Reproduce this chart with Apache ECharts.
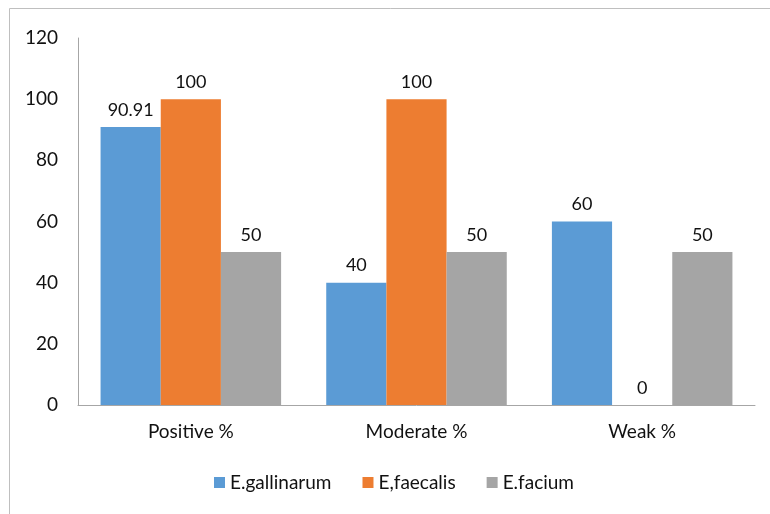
<!DOCTYPE html>
<html>
<head>
<meta charset="utf-8">
<script src="https://cdn.jsdelivr.net/npm/echarts@6/dist/echarts.min.js"></script>
<style>
  html, body { margin: 0; padding: 0; background: #fff; }
  #chart { width: 770px; height: 514px; }
</style>
</head>
<body>
<div id="chart"></div>
<script>
// Categories and series values
const categories = ['Positive %', 'Moderate %', 'Weak %'];
const gallinarum = [90.91, 40, 60];
const faecalis = [100, 100, 0];
const facium = [50, 50, 50];
const seriesNames = ['E.gallinarum', 'E,faecalis', 'E.facium'];
const yTicks = [0, 20, 40, 60, 80, 100, 120];

const colors = ['#5B9BD5', '#ED7D31', '#A5A5A5'];
const font = 'Lato, "Open Sans", sans-serif';
const textColor = '#111111';

const chart = echarts.init(document.getElementById('chart'), null, { renderer: 'canvas' });

function makeSeries(name, data, color) {
  return {
    name: name,
    type: 'bar',
    data: data,
    itemStyle: { color: color },
    barGap: '0%',
    barCategoryGap: '20%',
    label: {
      show: true,
      position: 'top',
      distance: 8,
      color: textColor,
      fontFamily: font,
      fontSize: 18
    }
  };
}

chart.setOption({
  animation: false,
  color: colors,
  graphic: [{
    type: 'rect',
    shape: { x: 9.5, y: 8.5, width: 1000, height: 1000 },
    style: { fill: 'none', stroke: '#bfbfbf', lineWidth: 1 },
    silent: true
  }],
  grid: { left: 78, right: 15, top: 38, bottom: 109, containLabel: false },
  legend: {
    data: seriesNames,
    bottom: 17,
    left: 209,
    itemWidth: 11,
    itemHeight: 11,
    itemGap: 31,
    icon: 'rect',
    textStyle: { color: textColor, fontFamily: font, fontSize: 19 }
  },
  xAxis: {
    type: 'category',
    data: categories,
    axisLine: { show: true, lineStyle: { color: '#a6a6a6', width: 1 } },
    axisTick: { show: false },
    axisLabel: { color: textColor, fontFamily: font, fontSize: 19, margin: 17 }
  },
  yAxis: {
    type: 'value',
    min: yTicks[0],
    max: yTicks[yTicks.length - 1],
    interval: 20,
    axisLine: { show: true, lineStyle: { color: '#a6a6a6', width: 1 } },
    axisTick: { show: false },
    splitLine: { show: false },
    axisLabel: { color: textColor, fontFamily: font, fontSize: 19, margin: 20 }
  },
  series: [
    makeSeries(seriesNames[0], gallinarum, colors[0]),
    makeSeries(seriesNames[1], faecalis, colors[1]),
    makeSeries(seriesNames[2], facium, colors[2])
  ]
});
</script>
</body>
</html>
